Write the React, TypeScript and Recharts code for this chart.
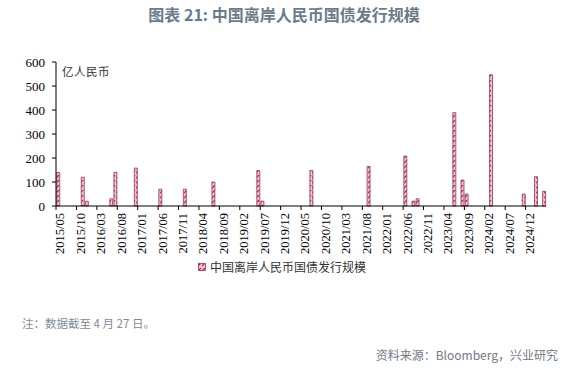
import React from "react";
import { BarChart, Bar, XAxis, YAxis } from "recharts";

// ---- data ----
const START_YEAR = 2015;
const START_MONTH = 5;
const MONTH_COUNT = 120; // 2015/05 .. 2025/04
const issueMonths = [
  "2015/05", "2015/11", "2015/12", "2016/06", "2016/07", "2016/12", "2017/06",
  "2017/12", "2018/07", "2019/06", "2019/07", "2020/07", "2021/09", "2022/06",
  "2022/08", "2022/09", "2023/06", "2023/08", "2023/09", "2024/03", "2024/11",
  "2025/02", "2025/04",
];
const issueValues = [
  140, 120, 20, 30, 140, 158, 70,
  70, 100, 148, 20, 148, 165, 208,
  20, 30, 389, 108, 50, 547, 50,
  122, 61,
];
const yTicks = [0, 100, 200, 300, 400, 500, 600];
const seriesName = "中国离岸人民币国债发行规模";
const unitLabel = "亿人民币";
const titleText = "图表 21: 中国离岸人民币国债发行规模";
const noteText = "注：数据截至 4 月 27 日。";
const sourceText = "资料来源：Bloomberg，兴业研究";

const months: string[] = [];
for (let i = 0; i < MONTH_COUNT; i++) {
  const m0 = START_MONTH - 1 + i;
  const y = START_YEAR + Math.floor(m0 / 12);
  const m = (m0 % 12) + 1;
  months.push(`${y}/${m < 10 ? "0" + m : m}`);
}
const valueByMonth: Record<string, number> = {};
issueMonths.forEach((m, i) => (valueByMonth[m] = issueValues[i]));
const data = months.map((m) => ({ month: m, value: valueByMonth[m] ?? 0 }));

const XTick = (props: any) => {
  const { x, y, payload } = props;
  return (
    <g>
      <line x1={x - 2} y1={y} x2={x - 2} y2={y + 4} stroke="#000" strokeWidth={1} />
      <text
        x={x + 2}
        y={y + 7}
        transform={`rotate(-90, ${x + 2}, ${y + 7})`}
        textAnchor="end"
        dy="0.35em"
        fontFamily="'Liberation Serif', 'Times New Roman', serif"
        fontSize={12.5}
        fill="#000"
      >
        {payload.value}
      </text>
    </g>
  );
};

export default function App() {
  return (
    <div
      style={{
        position: "absolute",
        left: 0,
        top: 0,
        width: 572,
        height: 368,
        background: "#fff",
        overflow: "hidden",
      }}
    >
      <svg width={0} height={0} style={{ position: "absolute" }}>
        <defs>
          <pattern id="hatch" patternUnits="userSpaceOnUse" width={4} height={5}>
            <rect x={0} y={0} width={4} height={5} fill="#f5bfcc" />
            <path d="M-1,4 L3,0" stroke="#8e2a45" strokeWidth={1.1} />
          </pattern>
        </defs>
      </svg>
      <div
        style={{
          position: "absolute",
          left: 0,
          top: 3,
          width: 568,
          textAlign: "center",
          fontFamily: "'Noto Sans CJK SC', sans-serif",
          fontWeight: 700,
          fontSize: 16,
          color: "#6b7b8b",
          lineHeight: "22px",
        }}
      >
        {titleText}
      </div>
      <div style={{ position: "absolute", left: 0, top: 0 }}>
        <BarChart
          width={572}
          height={270}
          data={data}
          margin={{ top: 62, right: 26, left: 0, bottom: 14 }}
          barCategoryGap="18%"
        >
          <XAxis
            dataKey="month"
            interval={4}
            height={50}
            tickLine={false}
            tickSize={0}
            tickMargin={0}
            axisLine={{ stroke: "#000", strokeWidth: 1 }}
            tick={<XTick />}
          />
          <YAxis
            width={56}
            domain={[0, 600]}
            ticks={yTicks}
            interval={0}
            tickSize={4}
            tickMargin={7}
            axisLine={{ stroke: "#000", strokeWidth: 1 }}
            tickLine={{ stroke: "#000" }}
            tick={{
              fill: "#000",
              fontSize: 13,
              fontFamily: "'Liberation Serif', 'Times New Roman', serif",
            }}
          />
          <Bar
            dataKey="value"
            name={seriesName}
            fill="url(#hatch)"
            stroke="#9b3552"
            strokeWidth={0.8}
            isAnimationActive={false}
          />
        </BarChart>
      </div>
      <div
        style={{
          position: "absolute",
          left: 62,
          top: 63,
          fontFamily: "'Noto Sans CJK SC', serif",
          fontSize: 11.5,
          color: "#333",
          lineHeight: "16px",
          letterSpacing: 0.5,
        }}
      >
        {unitLabel}
      </div>
      <div
        style={{
          position: "absolute",
          left: 198,
          top: 259,
          display: "flex",
          alignItems: "center",
          fontFamily: "'Noto Sans CJK SC', serif",
          fontSize: 12,
          color: "#333",
          lineHeight: "16px",
        }}
      >
        <svg width={8} height={8} style={{ marginRight: 4 }}>
          <rect x={0.5} y={0.5} width={7} height={7} fill="url(#hatch)" stroke="#9b3552" strokeWidth={0.8} />
        </svg>
        <span>{seriesName}</span>
      </div>
      <div
        style={{
          position: "absolute",
          left: 22,
          top: 315,
          fontFamily: "'Noto Sans CJK SC', sans-serif",
          fontSize: 11.5,
          color: "#7d8b99",
          lineHeight: "16px",
          whiteSpace: "nowrap",
        }}
      >
        {noteText}
      </div>
      <div
        style={{
          position: "absolute",
          right: 14,
          top: 347,
          fontFamily: "'Noto Sans CJK SC', sans-serif",
          fontSize: 12,
          color: "#6f7a85",
          lineHeight: "16px",
          whiteSpace: "nowrap",
        }}
      >
        {sourceText}
      </div>
    </div>
  );
}
